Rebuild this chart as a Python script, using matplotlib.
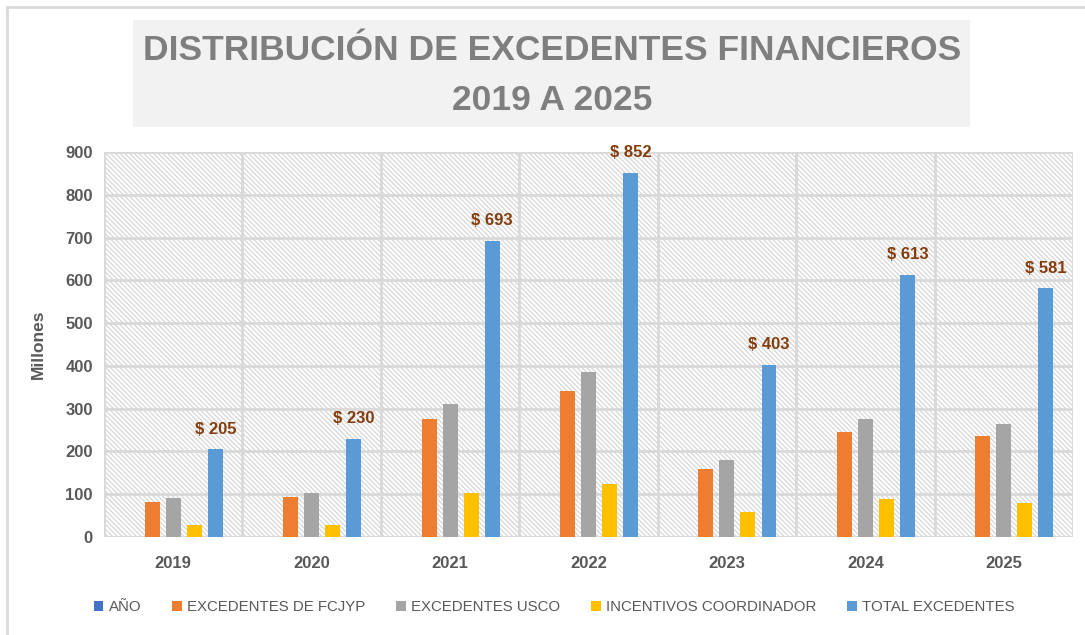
import matplotlib.pyplot as plt
import numpy as np
from matplotlib.patches import Rectangle
from matplotlib.lines import Line2D

years = ['2019', '2020', '2021', '2022', '2023', '2024', '2025']
anio = [0, 0, 0, 0, 0, 0, 0]
exc_fcjyp = [82, 94, 275, 342, 160, 245, 236]
exc_usco = [92, 104, 310, 385, 181, 275, 263]
incentivos = [29, 29, 104, 124, 59, 89, 79]
total = [205, 230, 693, 852, 403, 613, 581]

series = [
    ('AÑO', anio, '#4472C4'),
    ('EXCEDENTES DE FCJYP', exc_fcjyp, '#ED7D31'),
    ('EXCEDENTES USCO', exc_usco, '#A5A5A5'),
    ('INCENTIVOS COORDINADOR', incentivos, '#FFC000'),
    ('TOTAL EXCEDENTES', total, '#5B9BD5'),
]

plt.rcParams['font.family'] = ['Liberation Sans', 'DejaVu Sans']
plt.rcParams['hatch.linewidth'] = 0.8
plt.rcParams['hatch.color'] = '#D3D3D3'

fig = plt.figure(figsize=(10.85, 6.35), dpi=100)
ax = fig.add_axes([104 / 1085, 1 - 537 / 635, 969 / 1085, 385 / 635])

# hatched background
bg = Rectangle((0, 0), 1, 1, transform=ax.transAxes, facecolor='white',
               edgecolor='#D3D3D3', hatch='\\\\\\\\\\\\\\', lw=0, zorder=0)
ax.add_patch(bg)

x = np.arange(len(years))
step = 0.152
width = 0.108
for i, (name, vals, col) in enumerate(series):
    ax.bar(x + (i - 2) * step, vals, width, color=col, label=name, zorder=3)

for xi, v in zip(x, total):
    ax.annotate(f'$ {v}', (xi + 2 * step, v), xytext=(0, 9), textcoords='offset points',
                ha='center', va='bottom', fontsize=12, fontweight='bold',
                color='#843C0C', annotation_clip=False, zorder=5)

ax.set_xlim(-0.5, 6.5)
ax.set_ylim(0, 900)
ax.set_yticks(range(0, 901, 100))
ax.set_xticks(np.arange(-0.5, 7, 1), minor=False)
ax.set_xticklabels([])
ax.set_xticks(x, minor=True)
ax.set_xticklabels(years, minor=True)
ax.tick_params(axis='x', which='both', length=0, pad=14)
ax.tick_params(axis='y', length=0, pad=8)
for lab in ax.get_xticklabels(minor=True) + ax.get_yticklabels():
    lab.set_fontweight('bold')
    lab.set_color('#595959')
    lab.set_fontsize(12)

ax.grid(True, which='major', color='#D9D9D9', lw=2, zorder=1)
ax.set_axisbelow(True)
for s in ax.spines.values():
    s.set_visible(False)
ax.axhline(0, color='#D9D9D9', lw=2, zorder=2)

ax.set_ylabel('Millones', fontsize=12.5, fontweight='bold', color='#595959', labelpad=14)

# title box
fig.add_artist(Rectangle((133 / 1085, 1 - 127 / 635), 837 / 1085, 107 / 635,
                         transform=fig.transFigure, facecolor='#F2F2F2', edgecolor='none'))
fig.text(552 / 1085, 1 - 50 / 635, 'DISTRIBUCIÓN DE EXCEDENTES FINANCIEROS',
         ha='center', va='center', fontsize=25.5, fontweight='bold', color='#7F7F7F')
fig.text(552 / 1085, 1 - 101 / 635, '2019 A 2025',
         ha='center', va='center', fontsize=25.5, fontweight='bold', color='#7F7F7F')

# chart border
fig.add_artist(Line2D([7 / 1085, 1], [1 - 7 / 635, 1 - 7 / 635], color='#D9D9D9', lw=2,
                      transform=fig.transFigure))
fig.add_artist(Line2D([7 / 1085, 7 / 1085], [0, 1 - 7 / 635], color='#D9D9D9', lw=2,
                      transform=fig.transFigure))

leg = fig.legend(loc='center', bbox_to_anchor=(554 / 1085, 1 - 607 / 635), ncol=5,
                 frameon=False, handlelength=0.65, handleheight=0.65, handletextpad=0.35,
                 columnspacing=2.05, prop={'size': 10.8})
for t in leg.get_texts():
    t.set_color('#595959')

fig.savefig('out.png', dpi=100)
